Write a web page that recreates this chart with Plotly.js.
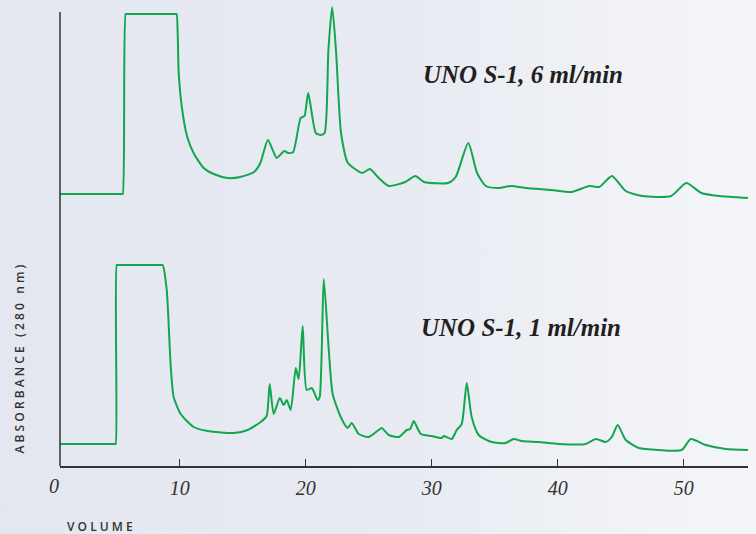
<!DOCTYPE html>
<html>
<head>
<meta charset="utf-8">
<script src="https://cdn.plot.ly/plotly-3.0.1.min.js"></script>
<style>
  html, body { margin: 0; padding: 0; }
  body {
    width: 756px; height: 534px; overflow: hidden;
    background: linear-gradient(90deg, #e4e7ef 0%, #e8ebf2 55%, #f1f3f7 85%, #f4f5f9 100%);
  }
  #chart { width: 756px; height: 534px; }
</style>
</head>
<body>
<div id="chart"></div>
<script>
// ---- Data (volume in ml, absorbance in arbitrary units) ----
// UNO S-1, 1 ml/min
const vol1 = [0.4, 2.5, 4.85, 4.92, 5.0, 5.08, 8.5, 8.65, 8.97, 9.29, 9.52, 10.08, 11.11, 12.22, 14.29, 15.40, 16.43, 16.90, 17.14, 17.46, 17.94, 18.25, 18.49, 18.81, 19.21, 19.44, 19.76, 20.08, 20.48, 20.95, 21.11, 21.43, 21.83, 22.14, 22.78, 23.33, 23.65, 24.21, 25.0, 25.79, 26.03, 26.59, 27.38, 28.02, 28.3, 28.57, 29.13, 30.0, 30.79, 30.95, 31.59, 31.98, 32.38, 32.78, 33.17, 33.73, 34.76, 35.87, 36.51, 37.14, 38.49, 40.08, 42.22, 43.02, 43.81, 44.29, 44.76, 45.40, 46.43, 48.02, 49.84, 50.56, 51.75, 53.33, 55.16];
const abs1 = [22, 22, 22, 22, 201, 201, 201, 201, 176, 99, 69, 52, 39, 35, 33, 36, 44, 50, 82, 52, 68, 61, 66, 56, 98, 87, 140, 76, 78, 66, 69, 187, 116, 72, 49, 38, 43, 32, 29, 36, 38, 31, 29, 36, 37, 45, 32, 30, 28, 30, 27, 36, 42, 83, 49, 31, 24, 23, 27, 25, 24, 22, 22, 27, 24, 29, 41, 26, 18, 16, 16, 27, 21, 17, 16];

// UNO S-1, 6 ml/min
const vol6 = [0.4, 3.0, 5.4, 5.48, 5.71, 5.8, 9.7, 9.76, 9.84, 9.92, 10.2, 10.6, 11.1, 11.9, 12.7, 13.8, 14.8, 15.9, 16.4, 17.0, 17.7, 18.3, 18.6, 19.0, 19.6, 19.9, 20.2, 20.8, 21.2, 21.5, 21.8, 22.1, 22.4, 22.8, 23.3, 23.8, 24.5, 25.1, 25.8, 26.6, 27.9, 28.7, 29.4, 31.3, 31.9, 32.9, 33.6, 34.3, 35.3, 36.3, 37.5, 39.5, 41.1, 42.5, 43.3, 44.3, 45.4, 46.7, 49.0, 50.2, 51.4, 52.8, 55.1];
const abs6 = [22, 22, 22, 22, 202, 202, 202, 202, 183, 143, 106, 79, 63, 48, 42, 38, 39, 44, 53, 76, 58, 65, 63, 64, 98, 100, 123, 83, 81, 83, 166, 209, 166, 83, 54, 48, 43, 47, 38, 30, 34, 40, 34, 33, 39, 73, 43, 30, 28, 30, 28, 26, 24, 30, 29, 40, 25, 20, 20, 33, 23, 20, 18];

const stackOffset6 = 250;   // vertical offset of the 6 ml/min trace
const xTicks = [10, 20, 30, 40, 50];
const xTickText = ['10', '20', '30', '40', '50'];
const labels = ['UNO S-1, 6 ml/min', 'UNO S-1, 1 ml/min'];

// ---- Plot ----
const green = '#12a64f';
const axisCol = '#333333';
const xRange = [0.5, 55.1];

const lineStyle = { color: green, width: 2, shape: 'spline', smoothing: 0.6 };

const trace1 = {
  x: vol1, y: abs1, type: 'scatter', mode: 'lines',
  line: lineStyle, hoverinfo: 'skip'
};
const trace6 = {
  x: vol6, y: abs6.map(v => v + stackOffset6), type: 'scatter', mode: 'lines',
  line: lineStyle, hoverinfo: 'skip'
};

function spaced(s) { return s.split('').join(' '); }

const zeroPaperX = (0 - xRange[0]) / (xRange[1] - xRange[0]);
const serif = 'Liberation Serif, Times New Roman, serif';
const sans = 'Open Sans, DejaVu Sans, sans-serif';

const layout = {
  width: 756, height: 534,
  margin: { l: 60, r: 8, t: 6, b: 68 },
  paper_bgcolor: 'rgba(0,0,0,0)',
  plot_bgcolor: 'rgba(0,0,0,0)',
  showlegend: false,
  xaxis: {
    range: xRange,
    showgrid: false, zeroline: false,
    showline: true, linecolor: axisCol, linewidth: 1.5,
    ticks: 'inside', ticklen: 7, tickwidth: 1.5, tickcolor: axisCol,
    tickvals: xTicks, ticktext: xTickText,
    tickfont: { family: serif, size: 20, color: '#333', style: 'italic' },
    ticklabelstandoff: 3
  },
  yaxis: {
    range: [0, 460],
    showgrid: false, zeroline: false, showline: false,
    showticklabels: false, ticks: ''
  },
  shapes: [{
    type: 'line', xref: 'paper', yref: 'y',
    x0: 0, x1: 0, y0: 0, y1: 454,
    line: { color: axisCol, width: 1.5 }
  }],
  annotations: [
    {
      text: '0', xref: 'paper', yref: 'paper', x: zeroPaperX, y: 0,
      xanchor: 'center', yanchor: 'top', yshift: -7, showarrow: false,
      font: { family: serif, size: 20, color: '#333', style: 'italic' }
    },
    {
      text: labels[0], xref: 'paper', yref: 'y', x: 0.524, y: 392,
      xanchor: 'left', yanchor: 'middle', showarrow: false,
      font: { family: serif, size: 25, color: '#231f20', style: 'italic', weight: 700 }
    },
    {
      text: labels[1], xref: 'paper', yref: 'y', x: 0.522, y: 139,
      xanchor: 'left', yanchor: 'middle', showarrow: false,
      font: { family: serif, size: 25, color: '#231f20', style: 'italic', weight: 700 }
    },
    {
      text: spaced('ABSORBANCE') + '   ' + spaced('(280') + '   ' + spaced('nm)'),
      xref: 'paper', yref: 'paper', x: -0.0596, y: 0.024,
      xanchor: 'center', yanchor: 'bottom', textangle: -90, showarrow: false,
      font: { family: sans, size: 12, color: '#333', weight: 600 }
    },
    {
      text: spaced('VOLUME'),
      xref: 'paper', yref: 'paper', x: 0.007, y: 0,
      xanchor: 'left', yanchor: 'middle', yshift: -60, showarrow: false,
      font: { family: sans, size: 12, color: '#333', weight: 600 }
    }
  ]
};

Plotly.newPlot('chart', [trace6, trace1], layout, { staticPlot: true, displayModeBar: false });
</script>
</body>
</html>
